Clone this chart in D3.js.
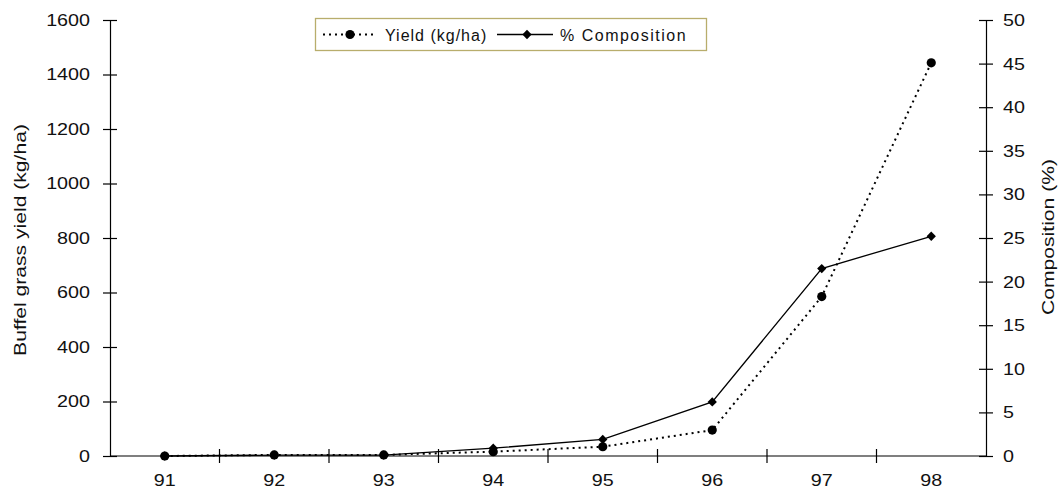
<!DOCTYPE html>
<html>
<head>
<meta charset="utf-8">
<script src="https://cdn.jsdelivr.net/npm/d3@7"></script>
<style>
  html, body { margin: 0; padding: 0; background: #fff; }
  svg { display: block; font-family: "Liberation Sans", Arial, sans-serif; }
  .wide { transform-box: fill-box; }
</style>
</head>
<body>
<svg id="chart" width="1061" height="498"></svg>
<script>
// Buffel grass yield and % composition by year
const years = ["91", "92", "93", "94", "95", "96", "97", "98"];
const yieldKg = [0, 4, 4, 16, 34, 95, 585, 1443];
const composition = [0, 0.1, 0.1, 0.9, 1.9, 6.2, 21.5, 25.2];
const yieldTicks = [0, 200, 400, 600, 800, 1000, 1200, 1400, 1600];
const compTicks = [0, 5, 10, 15, 20, 25, 30, 35, 40, 45, 50];

const svg = d3.select("#chart");
const plotLeft = 110, plotRight = 986, plotTop = 20, plotBottom = 456;

const x = d3.scaleBand().domain(years).range([plotLeft, plotRight]);
const yL = d3.scaleLinear().domain([0, 1600]).range([plotBottom, plotTop]);
const yR = d3.scaleLinear().domain([0, 50]).range([plotBottom, plotTop]);

const tickFont = 17, tickStretch = 1.16;

// widen tick labels along their baseline, keeping the anchored edge fixed
function styleTicks(g, origin) {
  g.selectAll(".tick text")
    .attr("font-size", tickFont).attr("fill", "#111")
    .attr("font-family", "Liberation Sans, Arial, sans-serif")
    .attr("class", "wide")
    .style("transform-origin", origin)
    .style("transform", `scale(${tickStretch},1)`);
}

// left axis
const axL = svg.append("g").attr("transform", `translate(${plotLeft},0)`)
  .call(d3.axisLeft(yL).tickValues(yieldTicks).tickFormat(d3.format("d"))
    .tickSizeInner(7).tickSizeOuter(0).tickPadding(13));
axL.selectAll(".tick line").attr("x2", 7).attr("x1", -7);
styleTicks(axL, "right center");

// right axis
const axR = svg.append("g").attr("transform", `translate(${plotRight},0)`)
  .call(d3.axisRight(yR).tickValues(compTicks).tickFormat(d3.format("d"))
    .tickSizeInner(7).tickSizeOuter(0).tickPadding(10));
axR.selectAll(".tick line").attr("x1", -7).attr("x2", 7);
styleTicks(axR, "left center");

// bottom axis: ticks at category boundaries
const axB = svg.append("g").attr("transform", `translate(0,${plotBottom})`)
  .call(d3.axisBottom(x).tickSize(0).tickPadding(18));
axB.select(".domain").attr("d", `M${plotLeft},0H${plotRight}`);
styleTicks(axB, "center center");
const bounds = years.slice(1).map(d => x(d));
axB.selectAll(".bound").data(bounds).enter().append("line")
  .attr("class", "bound")
  .attr("x1", d => d).attr("x2", d => d).attr("y1", -7).attr("y2", 7);

svg.selectAll(".domain, .tick line, .bound").attr("stroke", "#000").attr("stroke-width", 1.2);

// axis titles
const titleFont = 16;
svg.append("text")
  .attr("transform", `translate(26,240) rotate(-90) scale(1.32,1)`)
  .attr("text-anchor", "middle").attr("font-size", titleFont).attr("fill", "#111")
  .text("Buffel grass yield (kg/ha)");
svg.append("text")
  .attr("transform", `translate(1054,237) rotate(-90) scale(1.32,1)`)
  .attr("text-anchor", "middle").attr("font-size", titleFont).attr("fill", "#111")
  .text("Composition (%)");

const cx = d => x(d) + x.bandwidth() / 2;

// composition line (solid with diamonds)
const compLine = d3.line().x((d, i) => cx(years[i])).y(d => yR(d));
svg.append("path").datum(composition)
  .attr("d", compLine).attr("fill", "none").attr("stroke", "#000").attr("stroke-width", 1.3);

// yield line (dotted with circles)
const yieldLine = d3.line().x((d, i) => cx(years[i])).y(d => yL(d));
svg.append("path").datum(yieldKg)
  .attr("d", yieldLine).attr("fill", "none").attr("stroke", "#000")
  .attr("stroke-width", 2).attr("stroke-dasharray", "2,4");

const diamond = d3.symbol().type(d3.symbolDiamond2).size(55);
svg.selectAll(".comp-pt").data(composition).enter().append("path")
  .attr("class", "comp-pt")
  .attr("d", diamond)
  .attr("transform", (d, i) => `translate(${cx(years[i])},${yR(d)})`)
  .attr("fill", "#000");

svg.selectAll(".yield-pt").data(yieldKg).enter().append("circle")
  .attr("class", "yield-pt")
  .attr("cx", (d, i) => cx(years[i])).attr("cy", d => yL(d))
  .attr("r", 4.6).attr("fill", "#000");

// legend
const legendFont = 16;
const lg = svg.append("g");
lg.append("rect").attr("x", 315.5).attr("y", 18.5).attr("width", 391).attr("height", 32)
  .attr("fill", "#fff").attr("stroke", "#b8ad6c").attr("stroke-width", 1.3);
lg.append("line").attr("x1", 323).attr("x2", 377).attr("y1", 34.5).attr("y2", 34.5)
  .attr("stroke", "#000").attr("stroke-width", 2).attr("stroke-dasharray", "2,4");
lg.append("circle").attr("cx", 350).attr("cy", 34.5).attr("r", 4.6).attr("fill", "#000");
lg.append("text").attr("x", 385).attr("y", 40.5).attr("font-size", legendFont).attr("fill", "#111")
  .attr("letter-spacing", 1).text("Yield (kg/ha)");
lg.append("line").attr("x1", 497).attr("x2", 553).attr("y1", 34.5).attr("y2", 34.5)
  .attr("stroke", "#000").attr("stroke-width", 1.3);
lg.append("path").attr("d", diamond).attr("transform", "translate(527,34.5)").attr("fill", "#000");
lg.append("text").attr("x", 560).attr("y", 40.5).attr("font-size", legendFont).attr("fill", "#111")
  .attr("letter-spacing", 1.5).text("% Composition");
</script>
</body>
</html>
